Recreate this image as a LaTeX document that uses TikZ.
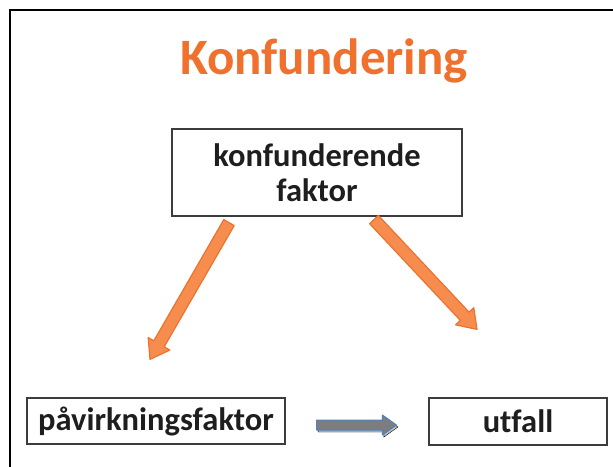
\documentclass[tikz,border=0pt]{standalone}
\usepackage{fontspec}
\setmainfont{Carlito}[Ligatures=NoCommon]
\usetikzlibrary{calc}
\definecolor{titleorange}{RGB}{240,113,45}
\definecolor{arrowfill}{RGB}{246,141,78}
\definecolor{arrowline}{RGB}{236,114,48}
\definecolor{boxline}{RGB}{60,60,60}
\definecolor{boxtext}{RGB}{30,30,30}
\definecolor{flowgray}{RGB}{125,125,128}
\definecolor{flowblue}{RGB}{79,129,189}
\tikzset{
  frame/.style={line width=2pt, black},
  factor/.style={draw=boxline, line width=1.2pt, fill=white, align=center,
    text=boxtext, font=\fontsize{32.5}{35.5}\selectfont\bfseries, inner sep=0pt},
  influence/.style={draw=arrowline, fill=arrowfill, line width=1.2pt, line join=round},
  effect/.style={draw=flowblue, fill=flowgray, line width=1pt, line join=round},
  effectshadow/.style={fill=black!25},
}
% block arrow: style, start, tip, half shaft width, half head width, head length
\newcommand{\blockarrow}[6]{%
  \coordinate (neck) at ($(#3)!#6!(#2)$);
  \draw[#1] ($(#2)!#4!90:(#3)$) -- ($(neck)!#4!-90:(#2)$)
    -- ($(neck)!#5!-90:(#2)$) -- (#3) -- ($(neck)!#5!90:(#2)$)
    -- ($(neck)!#4!90:(#2)$) -- ($(#2)!#4!-90:(#3)$) -- cycle;
}

\begin{document}
\begin{tikzpicture}[x=1pt, y=1pt]
  \useasboundingbox (0,0) rectangle (613,466);
  \draw[frame] (10,-5) -- (10,456) -- (620,456);

  \node[anchor=base, text=titleorange, font=\fontsize{51}{60}\selectfont\bfseries]
    (title) at (324,391) {Konfundering};

  \node[factor, minimum width=290pt, minimum height=87pt] (konf) at (317,293.5)
    {konfunderende\\faktor};
  \node[factor, minimum width=258pt, minimum height=46pt] (pav) at (156,45)
    {påvirkningsfaktor};
  \node[factor, minimum width=178pt, minimum height=47pt] (utfall) at (518,44.5)
    {utfall};

  % arrows out of the confounder
  \coordinate (ls) at ([shift={(-88,-6)}]konf.south);
  \coordinate (lt) at ([shift={(-6,38)}]pav.north);
  \coordinate (rs) at ([shift={(57,-3)}]konf.south);
  \coordinate (rt) at ([shift={(-41,68)}]utfall.north);
  \blockarrow{influence}{ls}{lt}{6pt}{12.5pt}{18pt}
  \blockarrow{influence}{rs}{rt}{6pt}{12.5pt}{18pt}

  % exposure -> outcome
  \coordinate (es) at ([shift={(31,-4)}]pav.east);
  \coordinate (et) at ([shift={(-32,-3.5)}]utfall.west);
  \coordinate (ess) at ([shift={(1.5,-2)}]es);
  \coordinate (ets) at ([shift={(1.5,-2)}]et);
  \blockarrow{effectshadow}{ess}{ets}{5pt}{10pt}{14pt}
  \blockarrow{effect}{es}{et}{5pt}{10pt}{14pt}
\end{tikzpicture}
\end{document}
